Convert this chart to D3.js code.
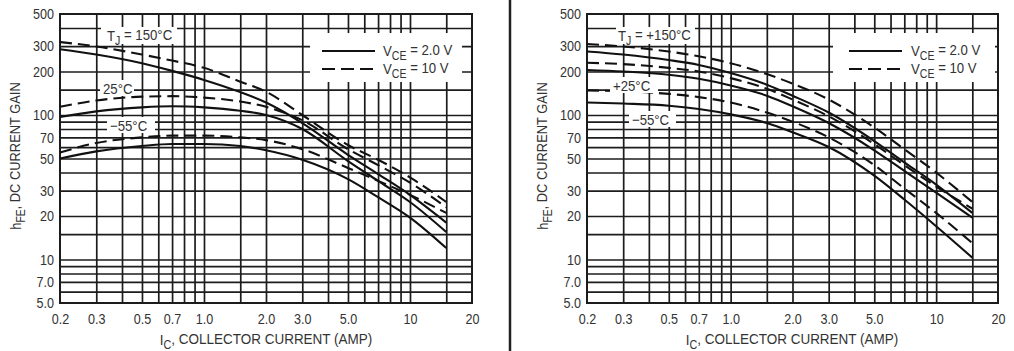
<!DOCTYPE html>
<html>
<head>
<meta charset="utf-8">
<script src="https://cdn.jsdelivr.net/npm/d3@7"></script>
<style>
  body { margin: 0; background: #fff; }
  svg text { font-family: "Liberation Sans", Arial, sans-serif; fill: #333; }
</style>
</head>
<body>
<svg id="chart" width="1014" height="351"></svg>
<script>
// Collector current sample points (A) shared by every curve
const currents = [0.2, 0.3, 0.5, 0.7, 1.0, 1.5, 2.0, 3.0, 5.0, 7.0, 10, 15];

// Axis ticks and labels
const xTickValues = [0.2, 0.3, 0.5, 0.7, 1.0, 2.0, 3.0, 5.0, 10, 20];
const xTickLabels = ["0.2", "0.3", "0.5", "0.7", "1.0", "2.0", "3.0", "5.0", "10", "20"];
const yTickValues = [500, 300, 200, 100, 70, 50, 30, 20, 10, 7, 5];
const yTickLabels = ["500", "300", "200", "100", "70", "50", "30", "20", "10", "7.0", "5.0"];

// Log-paper grid lines
const xGrid = [0.3, 0.4, 0.5, 0.6, 0.7, 0.8, 0.9, 1, 1.5, 2, 3, 4, 5, 6, 7, 8, 9, 10, 15];
const yGrid = [400, 300, 200, 150, 100, 90, 80, 70, 60, 50, 40, 30, 20, 15, 10, 9, 8, 7, 6];

// Left panel: hFE vs IC
const leftT150v2  = [285, 262, 228, 202, 175, 144, 122, 88, 53, 39, 28, 18];
const leftT150v10 = [320, 298, 262, 238, 212, 170, 145, 100, 62, 49, 37, 25];
const leftT25v2   = [97, 106, 113, 115, 113, 107, 100, 80, 48, 35, 25, 15.5];
const leftT25v10  = [114, 126, 134, 135, 132, 124, 114, 92, 58, 45, 34, 23];
const leftTm55v2  = [50, 56, 61, 63, 63, 61, 57, 49, 36, 27, 19.5, 12];
const leftTm55v10 = [55, 64, 70, 72, 72, 70, 67, 58, 43, 35, 28, 21];

// Right panel: hFE vs IC
const rightT150v2  = [275, 262, 240, 222, 195, 162, 136, 104, 66, 47, 33, 21];
const rightT150v10 = [310, 298, 275, 255, 228, 192, 165, 128, 82, 58, 40, 25];
const rightT25v2   = [205, 200, 190, 178, 160, 136, 115, 88, 57, 41, 29, 19.5];
const rightT25v10  = [230, 225, 212, 200, 180, 152, 128, 98, 63, 45, 32, 22.5];
const rightTm55v2  = [122, 120, 116, 110, 101, 88, 76, 60, 38, 26, 17, 10.3];
const rightTm55v10 = [148, 146, 140, 133, 122, 104, 90, 70, 45, 31, 21, 13];

const svg = d3.select("#chart");
const plotTop = 14, plotBottom = 303;
const ink = "#1c1c1c";

// condense a text horizontally around its anchor point
function narrow(t, k) {
  const x = +t.attr("x") || 0, y = +t.attr("y") || 0;
  t.attr("transform", `translate(${x},${y}) scale(${k},1) translate(${-x},${-y})`);
  return t;
}

function sub(textSel, parts) {
  // parts: [[text, isSubscript], ...]
  parts.forEach(([t, s], i) => {
    const ts = textSel.append("tspan").text(t);
    if (s) ts.attr("font-size", "0.8em").attr("dy", "0.3em");
    else if (i > 0 && parts[i - 1][1]) ts.attr("dy", "-0.3em");
  });
  return textSel;
}

function panel(o) {
  const x = d3.scaleLog().domain([0.2, 20]).range([o.x0, o.x1]);
  const y = d3.scaleLog().domain([5, 500]).range([plotBottom, plotTop]);
  const g = svg.append("g");

  // grid
  g.append("g").attr("transform", `translate(0,${plotBottom})`)
    .call(d3.axisBottom(x).tickValues(xGrid).tickSize(-(plotBottom - plotTop)).tickFormat(""))
    .call(a => a.select(".domain").remove())
    .call(a => a.selectAll("line").attr("stroke", ink).attr("stroke-width", 1.7));
  g.append("g").attr("transform", `translate(${o.x0},0)`)
    .call(d3.axisLeft(y).tickValues(yGrid).tickSize(-(o.x1 - o.x0)).tickFormat(""))
    .call(a => a.select(".domain").remove())
    .call(a => a.selectAll("line").attr("stroke", ink).attr("stroke-width", 1.7));

  // frame
  g.append("rect").attr("x", o.x0).attr("y", plotTop)
    .attr("width", o.x1 - o.x0).attr("height", plotBottom - plotTop)
    .attr("fill", "none").attr("stroke", ink).attr("stroke-width", 2);

  // tick labels
  g.append("g").attr("transform", `translate(0,${plotBottom + 4})`)
    .call(d3.axisBottom(x).tickValues(xTickValues).tickSize(0)
      .tickFormat((d, i) => xTickLabels[i]))
    .call(a => a.select(".domain").remove())
    .call(a => a.selectAll("text").attr("font-size", 15).attr("font-family", null)
      .attr("dy", "0.95em").attr("transform", "scale(0.84,1)"));
  g.append("g").attr("transform", `translate(${o.x0 - 6},0)`)
    .call(d3.axisLeft(y).tickValues(yTickValues).tickSize(0)
      .tickFormat((d, i) => yTickLabels[i]))
    .call(a => a.select(".domain").remove())
    .call(a => a.selectAll("text").attr("font-size", 15).attr("font-family", null)
      .attr("x", 0).attr("transform", "scale(0.84,1)"));

  // curves
  const line = d3.line().x(d => x(d[0])).y(d => y(d[1])).curve(d3.curveMonotoneX);
  o.series.forEach(s => {
    g.append("path").datum(currents.map((c, i) => [c, s.values[i]]))
      .attr("d", line).attr("fill", "none").attr("stroke", "#111")
      .attr("stroke-width", 2.1)
      .attr("stroke-dasharray", s.dashed ? "12,6" : null);
  });

  // temperature labels with white backing
  o.labels.forEach(l => {
    g.append("rect").attr("x", l.bx).attr("y", l.by).attr("width", l.bw).attr("height", l.bh).attr("fill", "#fff");
    const t = g.append("text").attr("x", l.x).attr("y", l.y).attr("font-size", 15);
    narrow(sub(t, l.parts), 0.88);
  });

  // legend
  const lg = o.legend;
  g.append("rect").attr("x", lg.bx).attr("y", 33).attr("width", lg.bw).attr("height", 49).attr("fill", "#fff");
  g.append("line").attr("x1", lg.lx).attr("x2", lg.lx + 53).attr("y1", 51).attr("y2", 51)
    .attr("stroke", "#111").attr("stroke-width", 2.1);
  g.append("line").attr("x1", lg.lx).attr("x2", lg.lx + 53).attr("y1", 69).attr("y2", 69)
    .attr("stroke", "#111").attr("stroke-width", 2.1).attr("stroke-dasharray", "13,6");
  narrow(sub(g.append("text").attr("x", lg.tx).attr("y", 56).attr("font-size", 15),
    [["V", false], ["CE", true], [" = 2.0 V", false]]), 0.88);
  narrow(sub(g.append("text").attr("x", lg.tx).attr("y", 74).attr("font-size", 15),
    [["V", false], ["CE", true], [" = 10 V", false]]), 0.88);

  // axis titles
  const xt = g.append("text").attr("x", o.xTitleX).attr("y", 345)
    .attr("text-anchor", "middle").attr("font-size", 15);
  narrow(sub(xt, [["I", false], ["C", true], [", COLLECTOR CURRENT (AMP)", false]]), 0.9);
  const yt = g.append("g").attr("transform", `translate(${o.yTitleX},156) rotate(-90)`)
    .append("text").attr("text-anchor", "middle").attr("font-size", 15);
  narrow(sub(yt, [["h", false], ["FE", true], [", DC CURRENT GAIN", false]]), 0.86);
}

panel({
  x0: 60, x1: 472, yTitleX: 21, xTitleX: 266,
  series: [
    { values: leftT150v2, dashed: false }, { values: leftT150v10, dashed: true },
    { values: leftT25v2, dashed: false }, { values: leftT25v10, dashed: true },
    { values: leftTm55v2, dashed: false }, { values: leftTm55v10, dashed: true }
  ],
  labels: [
    { bx: 101, by: 27, bw: 76, bh: 17, x: 107, y: 41, parts: [["T", false], ["J", true], [" = 150°C", false]] },
    { bx: 100, by: 80, bw: 34, bh: 16, x: 103, y: 94, parts: [["25°C", false]] },
    { bx: 107, by: 117, bw: 48, bh: 16, x: 110, y: 131, parts: [["\u221255°C", false]] }
  ],
  legend: { bx: 310, bw: 152, lx: 322, tx: 383 }
});

panel({
  x0: 587, x1: 998, yTitleX: 548, xTitleX: 792,
  series: [
    { values: rightT150v2, dashed: false }, { values: rightT150v10, dashed: true },
    { values: rightT25v2, dashed: false }, { values: rightT25v10, dashed: true },
    { values: rightTm55v2, dashed: false }, { values: rightTm55v10, dashed: true }
  ],
  labels: [
    { bx: 616, by: 27, bw: 79, bh: 17, x: 618, y: 41, parts: [["T", false], ["J", true], [" = +150°C", false]] },
    { bx: 610, by: 77, bw: 48, bh: 16, x: 613, y: 91, parts: [["+25°C", false]] },
    { bx: 629, by: 111, bw: 47, bh: 16, x: 632, y: 125, parts: [["\u221255°C", false]] }
  ],
  legend: { bx: 833, bw: 162, lx: 849, tx: 911 }
});

// panel divider
svg.append("line").attr("x1", 510).attr("x2", 510).attr("y1", 0).attr("y2", 351)
  .attr("stroke", "#222").attr("stroke-width", 2.5);
</script>
</body>
</html>
